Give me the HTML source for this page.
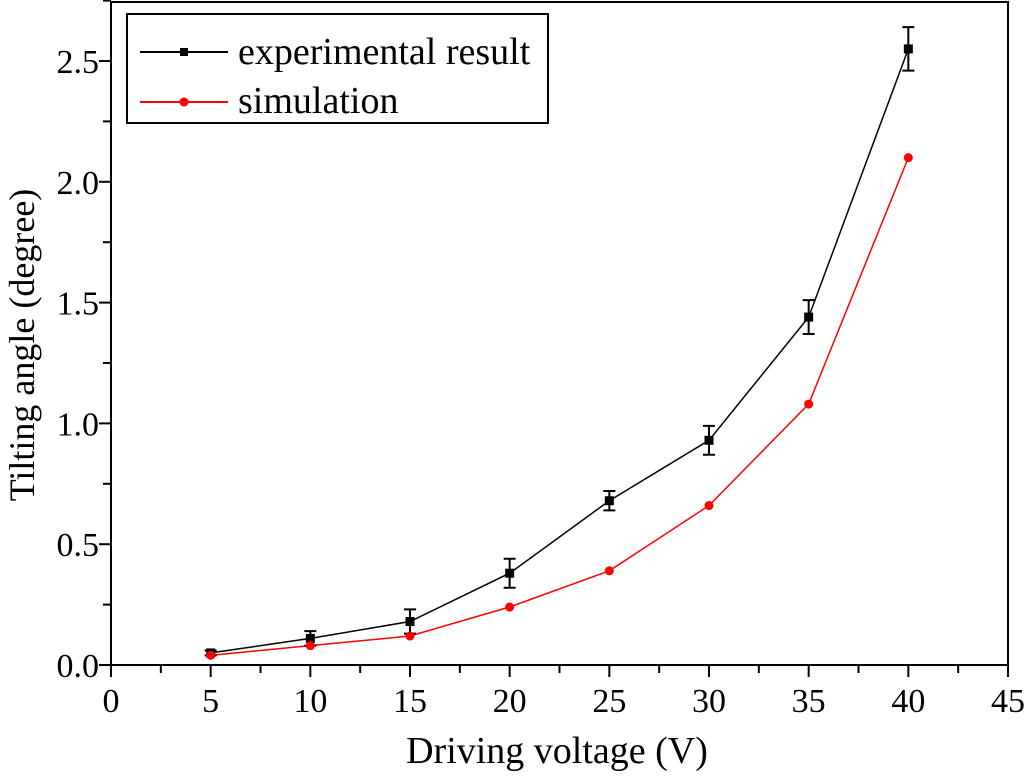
<!DOCTYPE html>
<html><head><meta charset="utf-8"><style>
body{margin:0;background:#fff;}
svg text{font-family:"Liberation Serif",serif;fill:#000;}
</style></head><body>
<svg id="chart" width="1024" height="775">
<g id="axes"></g>
<g id="marks"></g>
<g>
<rect x="127" y="14" width="421" height="109" fill="#fff" stroke="#000" stroke-width="2"/>
<line x1="140" y1="52" x2="228" y2="52" stroke="#000" stroke-width="2"/>
<rect x="180" y="48" width="8" height="8" fill="#000"/>
<text x="238" y="64" font-size="38">experimental result</text>
<line x1="140" y1="102" x2="228" y2="102" stroke="#f00" stroke-width="2"/>
<circle cx="184" cy="102" r="4.5" fill="#f00"/>
<text x="238" y="113" font-size="38">simulation</text>
</g>
<text x="557" y="763" font-size="38" text-anchor="middle">Driving voltage (V)</text>
<text transform="translate(34,345) rotate(-90)" font-size="36" text-anchor="middle">Tilting angle (degree)</text>
</svg>
<script>
const voltages=[5,10,15,20,25,30,35,40];
const experimental=[0.05,0.11,0.18,0.38,0.68,0.93,1.44,2.55];
const expError=[0.01,0.03,0.05,0.06,0.04,0.06,0.07,0.09];
const simulation=[0.04,0.08,0.12,0.24,0.39,0.66,1.08,2.10];
const xTicks=[0,5,10,15,20,25,30,35,40,45];
const yTicks=["0.0","0.5","1.0","1.5","2.0","2.5"];
const NS="http://www.w3.org/2000/svg";
const X0=111,X1=1008,Y0=665,Y1=2;
const xs=v=>X0+(v/45)*(X1-X0);
const ys=v=>Y0-v*241.6;
function mk(tag,attrs,parent){const e=document.createElementNS(NS,tag);for(const k in attrs)e.setAttribute(k,attrs[k]);parent.appendChild(e);return e;}
const axes=document.getElementById('axes'),marks=document.getElementById('marks');
let f=mk('rect',{x:X0,y:Y1,width:X1-X0,height:Y0-Y1,fill:'none',stroke:'#000','stroke-width':2},axes);


for(let i=0;i<=18;i++){const v=i*2.5;const major=i%2==0;
 let t=mk('line',{x1:xs(v),x2:xs(v),y1:Y0,y2:Y0+(major?12:8),stroke:'#000','stroke-width':2},axes);
 
 }
xTicks.forEach(v=>{let t=mk('text',{x:xs(v),y:Y0+47,'font-size':34,'text-anchor':'middle'},axes);t.textContent=v;
 
 });
for(let i=0;i<=11;i++){const v=i*0.25;const major=i%2==0;
 let t=mk('line',{x1:X0,x2:X0-(major?12:8),y1:ys(v),y2:ys(v),stroke:'#000','stroke-width':2},axes);
 
 }
yTicks.forEach(s=>{let t=mk('text',{x:X0-12,y:ys(parseFloat(s))+12,'font-size':34,'text-anchor':'end'},axes);t.textContent=s;
 
 });
let pe=mk('polyline',{points:voltages.map((v,i)=>xs(v)+','+ys(experimental[i])).join(' '),fill:'none',stroke:'#000','stroke-width':1.5},marks);


let ps=mk('polyline',{points:voltages.map((v,i)=>xs(v)+','+ys(simulation[i])).join(' '),fill:'none',stroke:'#f00','stroke-width':1.5},marks);


voltages.forEach((v,i)=>{
 const x=xs(v),y=ys(experimental[i]),e=expError[i];
 let eb=mk('path',{d:`M${x},${ys(experimental[i]+e)}V${ys(experimental[i]-e)}M${x-6},${ys(experimental[i]+e)}H${x+6}M${x-6},${ys(experimental[i]-e)}H${x+6}`,stroke:'#000','stroke-width':2,fill:'none'},marks);
 
 
 let r=mk('rect',{x:x-4.5,y:y-4.5,width:9,height:9,fill:'#000'},marks);
 
 
 let c=mk('circle',{cx:x,cy:ys(simulation[i]),r:4.5,fill:'#f00'},marks);
 
 
});
</script>
</body></html>
